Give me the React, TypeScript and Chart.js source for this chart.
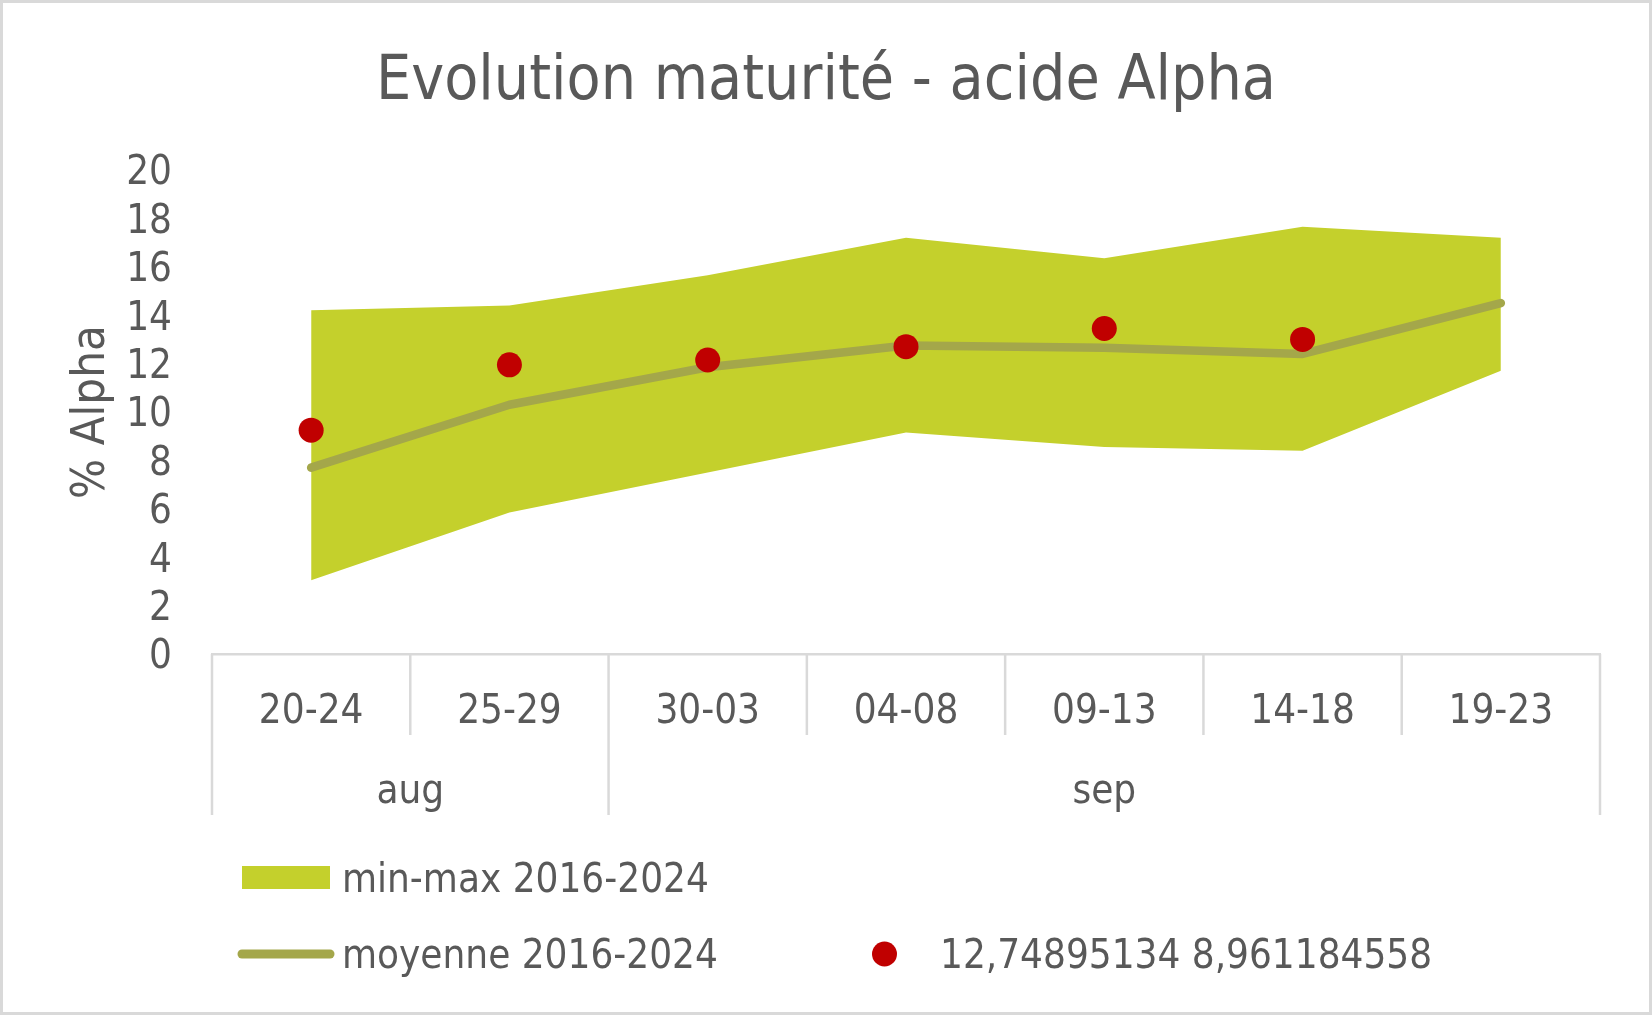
import React, { useEffect, useRef } from "react";
import { Chart, registerables } from "chart.js";

Chart.register(...registerables);

// week ranges (level 1) and their month (level 2)
const weeks = ["20-24", "25-29", "30-03", "04-08", "09-13", "14-18", "19-23"];
const months = ["aug", "aug", "sep", "sep", "sep", "sep", "sep"];

const maxValues = [14.2, 14.4, 15.65, 17.2, 16.35, 17.65, 17.2];
const minValues = [3.05, 5.85, 7.5, 9.15, 8.55, 8.4, 11.7];
const meanValues = [7.7, 10.3, 11.85, 12.75, 12.65, 12.4, 14.5];
const currentValues = [9.25, 11.95, 12.15, 12.7, 13.45, 13.0, null];

const yTickValues = [0, 2, 4, 6, 8, 10, 12, 14, 16, 18, 20];

const TITLE = "Evolution maturité - acide Alpha";
const Y_TITLE = "% Alpha";

const FONT = '"DejaVu Sans Condensed", "DejaVu Sans", sans-serif';
const TEXT = "#595959";
const RULE = "#d9d9d9";
const BAND = "#c4d02c";
const MEAN = "#a4a74a";
const DOT = "#c00000";

const decorPlugin = {
  id: "decor",
  beforeDraw(chart: any) {
    const { ctx, width, height } = chart;
    ctx.save();
    ctx.fillStyle = "#ffffff";
    ctx.fillRect(0, 0, width, height);
    ctx.restore();
  },
  afterDraw(chart: any) {
    const { ctx, width, height } = chart;
    const xs = chart.scales.x;
    const ys = chart.scales.y;
    const axisY = xs.top;
    const step = xs.getPixelForValue(1) - xs.getPixelForValue(0);
    const edge = (i: number) => xs.getPixelForValue(0) + (i - 0.5) * step;

    ctx.save();

    // chart border
    ctx.strokeStyle = RULE;
    ctx.lineWidth = 3;
    ctx.strokeRect(1.5, 1.5, width - 3, height - 3);

    // category dividers
    ctx.lineWidth = 2.5;
    for (let i = 0; i <= weeks.length; i++) {
      const groupEdge = i === 0 || i === weeks.length || months[i] !== months[i - 1];
      const x = edge(i);
      ctx.beginPath();
      ctx.moveTo(x, axisY);
      ctx.lineTo(x, axisY + (groupEdge ? 161 : 81));
      ctx.stroke();
    }

    // category labels
    ctx.fillStyle = TEXT;
    ctx.textAlign = "center";
    ctx.textBaseline = "alphabetic";
    ctx.font = `40px ${FONT}`;
    weeks.forEach((w, i) => ctx.fillText(w, xs.getPixelForValue(i), axisY + 69));
    let start = 0;
    for (let i = 1; i <= months.length; i++) {
      if (i === months.length || months[i] !== months[start]) {
        ctx.fillText(months[start], (edge(start) + edge(i)) / 2, axisY + 149);
        start = i;
      }
    }

    // title
    ctx.font = `62px ${FONT}`;
    ctx.fillText(TITLE, width / 2, 99);

    // y axis title
    ctx.save();
    ctx.translate(104, (ys.top + ys.bottom) / 2);
    ctx.rotate(-Math.PI / 2);
    ctx.font = `47px ${FONT}`;
    ctx.fillText(Y_TITLE, 0, 0);
    ctx.restore();

    // legend
    const ds = chart.data.datasets;
    ctx.font = `40px ${FONT}`;
    ctx.textAlign = "left";

    ctx.fillStyle = ds[0].backgroundColor;
    ctx.fillRect(242, 866, 88, 23);
    ctx.fillStyle = TEXT;
    ctx.fillText(ds[0].label, 342, 892);

    ctx.strokeStyle = ds[2].borderColor;
    ctx.lineWidth = 9;
    ctx.lineCap = "round";
    ctx.beginPath();
    ctx.moveTo(242, 954);
    ctx.lineTo(330, 954);
    ctx.stroke();
    ctx.fillText(ds[2].label, 342, 968);

    ctx.fillStyle = ds[3].pointBackgroundColor;
    ctx.beginPath();
    ctx.arc(884.5, 954, 12.5, 0, Math.PI * 2);
    ctx.fill();
    ctx.fillStyle = TEXT;
    ctx.fillText(ds[3].label, 940, 968);

    ctx.restore();
  },
};

export default function App() {
  const chartRef = useRef<HTMLCanvasElement | null>(null);
  const chartInstanceRef = useRef<Chart | null>(null);

  useEffect(() => {
    if (!chartRef.current) return;
    const ctx = chartRef.current.getContext("2d");
    if (!ctx) return;

    if (chartInstanceRef.current) {
      chartInstanceRef.current.destroy();
    }

    chartInstanceRef.current = new Chart(ctx, {
      type: "line",
      data: {
        labels: weeks,
        datasets: [
          {
            label: "min-max 2016-2024",
            data: maxValues,
            fill: "+1",
            backgroundColor: BAND,
            borderColor: "transparent",
            borderWidth: 0,
            pointRadius: 0,
            tension: 0,
            order: 3,
          },
          {
            label: "min 2016-2024",
            data: minValues,
            fill: false,
            backgroundColor: BAND,
            borderColor: "transparent",
            borderWidth: 0,
            pointRadius: 0,
            tension: 0,
            order: 2,
          },
          {
            label: "moyenne 2016-2024",
            data: meanValues,
            fill: false,
            borderColor: MEAN,
            borderWidth: 8.5,
            borderCapStyle: "round",
            borderJoinStyle: "round",
            pointRadius: 0,
            tension: 0,
            order: 1,
          },
          {
            label: "12,74895134 8,961184558",
            data: currentValues,
            showLine: false,
            fill: false,
            pointRadius: 12.5,
            pointBackgroundColor: DOT,
            pointBorderWidth: 0,
            borderColor: DOT,
            order: 0,
          },
        ],
      } as any,
      options: {
        animation: false,
        responsive: true,
        maintainAspectRatio: false,
        devicePixelRatio: 1,
        events: [],
        layout: { padding: { left: 0, right: 52, top: 170, bottom: 0 } },
        plugins: {
          legend: { display: false },
          title: { display: false },
          tooltip: { enabled: false },
        },
        scales: {
          x: {
            offset: true,
            grid: { display: false, drawTicks: false },
            border: { display: true, color: RULE, width: 2.5 },
            ticks: { display: false },
            afterFit: (scale: any) => {
              scale.height = 361;
            },
          },
          y: {
            min: 0,
            max: 20,
            grid: { display: false, drawTicks: false },
            border: { display: false },
            afterBuildTicks: (scale: any) => {
              scale.ticks = yTickValues.map((v) => ({ value: v }));
            },
            ticks: {
              color: TEXT,
              padding: 40,
              autoSkip: false,
              labelOffset: 4,
              font: { family: FONT, size: 40, lineHeight: 1 },
            },
            afterFit: (scale: any) => {
              scale.width = 212;
            },
          },
        },
      } as any,
      plugins: [decorPlugin],
    });

    return () => {
      if (chartInstanceRef.current) {
        chartInstanceRef.current.destroy();
        chartInstanceRef.current = null;
      }
    };
  }, []);

  return (
    <div style={{ position: "absolute", left: 0, top: 0, width: 1652, height: 1015 }}>
      <canvas ref={chartRef} />
    </div>
  );
}
